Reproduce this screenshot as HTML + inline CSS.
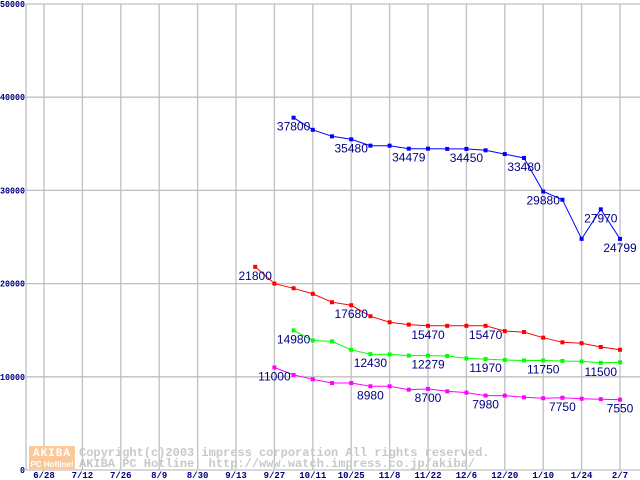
<!DOCTYPE html>
<html><head><meta charset="utf-8"><style>
html,body{margin:0;padding:0;background:#fff;}
svg{display:block;}
</style></head><body>
<svg id="chart" width="640" height="480" xmlns="http://www.w3.org/2000/svg" font-family="Liberation Sans, sans-serif">
<g id="grid"></g>
<g id="wm">
<rect x="29" y="446" width="46" height="23" fill="#fbc89a"/>
<text x="52" y="456" font-family="Liberation Mono, monospace" font-weight="bold" font-size="11" fill="#fff" text-anchor="middle" letter-spacing="1">AKIBA</text>
<text x="52" y="467" font-family="Liberation Sans, sans-serif" font-weight="bold" font-size="8" fill="#fff" text-anchor="middle">PC Hotline!</text>
<text x="79" y="456" font-family="Liberation Mono, monospace" font-weight="bold" font-size="12" fill="#c8c8c8">Copyright(c)2003 impress corporation All rights reserved.</text>
<text x="79" y="467" font-family="Liberation Mono, monospace" font-weight="bold" font-size="12" fill="#c8c8c8">AKIBA PC Hotline!  http://www.watch.impress.co.jp/akiba/</text>
</g>
<g id="series"></g>
</svg>
<script>
const xLabels=["6/28","7/12","7/26","8/9","8/30","9/13","9/27","10/11","10/25","11/8","11/22","12/6","12/20","1/10","1/24","2/7"];
const yTicks=[0,10000,20000,30000,40000,50000];
const blueStart=13;
const blueValues=[37800,36500,35800,35480,34800,34800,34479,34479,34450,34450,34300,33900,33480,29880,29000,24800,27970,24799];
const blueLabels=[37800,null,null,35480,null,null,34479,null,null,34450,null,null,33480,29880,null,null,27970,24799];
const redStart=11;
const redValues=[21800,20000,19500,18900,18000,17680,16500,15850,15600,15470,15470,15470,15470,14900,14800,14200,13700,13600,13200,12900];
const redLabels=[21800,null,null,null,null,17680,null,null,null,15470,null,null,15470,null,null,null,null,null,null,null];
const greenStart=13;
const greenValues=[14980,13900,13800,12900,12430,12400,12279,12279,12230,11970,11900,11800,11750,11750,11700,11650,11500,11550];
const greenLabels=[14980,null,null,null,12430,null,null,12279,null,null,11970,null,null,11750,null,null,11500,null];
const magentaStart=12;
const magentaValues=[11000,10200,9730,9330,9330,8980,8980,8620,8700,8440,8300,7980,7980,7800,7700,7750,7650,7600,7550];
const magentaLabels=[11000,null,null,null,null,8980,null,null,8700,null,null,7980,null,null,null,7750,null,null,7550];

const NS="http://www.w3.org/2000/svg";
const X=i=>44+i*19.2;
const Y=v=>470-v*466/50000;
function mk(tag,attrs,parent){const e=document.createElementNS(NS,tag);for(const k in attrs)e.setAttribute(k,attrs[k]);parent.appendChild(e);return e;}
const grid=document.getElementById('grid');
for(let k=0;k<xLabels.length;k++){
  const l=mk('line',{x1:X(k*2),x2:X(k*2),y1:4,y2:470,stroke:'#c0c0c0','stroke-width':1.3},grid);
  
  
  const t=mk('text',{x:X(k*2),y:478,'font-size':9,'font-family':'Liberation Mono, monospace','font-weight':'bold',fill:'#000080','text-anchor':'middle'},grid);
  t.textContent=xLabels[k];
  
  
}
for(const v of yTicks){
  const l=mk('line',{x1:26,x2:640,y1:Y(v),y2:Y(v),stroke:'#c0c0c0','stroke-width':1.3},grid);
  
  
  const s=String(v);
  const t=mk('text',{x:25,y:Y(v)+3,'font-size':9,'font-family':'Liberation Mono, monospace','font-weight':'bold',fill:'#000080','text-anchor':'end',textLength:s.length*5,lengthAdjust:'spacingAndGlyphs'},grid);
  t.textContent=s;
  
  
}
const ax=mk('line',{x1:26,x2:26,y1:4,y2:470,stroke:'#c0c0c0','stroke-width':1.3},grid);


const ser=document.getElementById('series');
function draw(name,start,vals,labels,color){
  const g=mk('g',{},ser);
  
  
  const pts=vals.map((v,j)=>X(start+j).toFixed(1)+','+Y(v).toFixed(1)).join(' ');
  const pl=mk('polyline',{points:pts,fill:'none',stroke:color,'stroke-width':1},g);
  
  
  vals.forEach((v,j)=>{
    const r=mk('rect',{x:X(start+j)-2,y:Y(v)-2,width:4,height:4,fill:color},g);
    
    
    if(labels[j]!=null){
      const t=mk('text',{x:X(start+j),y:Y(v)+13,'font-size':12,fill:'#000080','text-anchor':'middle'},g);
      t.textContent=String(labels[j]);
      
      
    }
  });
}
draw('blue',blueStart,blueValues,blueLabels,'#0000ff');
draw('red',redStart,redValues,redLabels,'#ff0000');
draw('green',greenStart,greenValues,greenLabels,'#00ff00');
draw('magenta',magentaStart,magentaValues,magentaLabels,'#ff00ff');
</script>
</body></html>
